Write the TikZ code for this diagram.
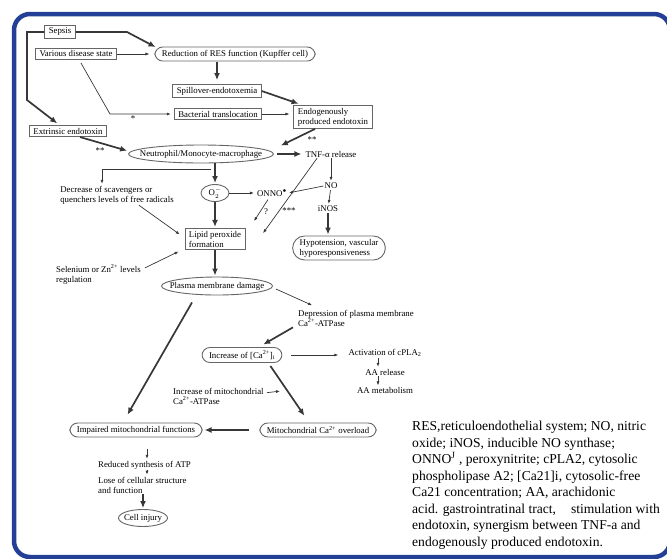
\documentclass[tikz,border=0pt]{standalone}
\usepackage{fontspec}
\setmainfont{Liberation Serif}
\usepackage{tikz}
\usetikzlibrary{shapes.geometric, arrows.meta, positioning, calc}
\definecolor{frameblue}{RGB}{35,64,150}
\definecolor{lineg}{RGB}{55,55,55}
\newcommand{\figfont}{\fontsize{8.8}{10}\selectfont}
\tikzset{
    framebox/.style={draw=frameblue, line width=4.5pt, rounded corners=16pt},
    rbox/.style={rectangle, draw=black!60, line width=0.9pt, align=left,
                 inner xsep=4pt, inner ysep=2.5pt, font=\figfont},
    pill/.style={rectangle, rounded corners=8pt, draw=black!60, line width=0.9pt,
                 align=left, inner xsep=7pt, inner ysep=3pt, font=\figfont},
    oval/.style={ellipse, draw=black!60, line width=0.9pt, inner sep=0pt,
                 minimum height=18pt, font=\figfont},
    lbl/.style={align=left, inner sep=1pt, font=\figfont},
    thinarr/.style={-{Latex[length=4pt,width=3pt]}, line width=0.7pt, draw=lineg, shorten >=1pt},
    thickarr/.style={-{Latex[length=7pt,width=6pt]}, line width=1.7pt, draw=lineg, shorten >=1pt},
    legendtxt/.style={align=left, inner sep=0pt, font=\fontsize{13.6}{16.5}\selectfont},
}

\begin{document}
\begin{tikzpicture}[x=1pt, y=-1pt, node distance=10pt and 10pt]
    \useasboundingbox (0,0) rectangle (667,558);
    \draw[framebox] (14,14) rectangle (670,557);

    \node[rbox] (sepsis) at (60,32) {Sepsis};
    \node[rbox] (various) at (76,54) {Various disease state};
    \node[pill] (res) at (235,54) {Reduction of RES function (Kupffer cell)};
    \node[rbox] (spill) at (217,91) {Spillover-endotoxemia};
    \node[rbox] (bact) at (218,114) {Bacterial translocation};
    \node[rbox] (endo) at (333,117) {Endogenously\\produced endotoxin};
    \node[rbox] (extr) at (68,131) {Extrinsic endotoxin};
    \node[oval, minimum width=145pt] (neutro) at (201,154) {\makebox[0pt]{Neutrophil/Monocyte-macrophage}};
    \node[lbl] (tnf) at (331,154) {TNF-α release};
    \node[lbl] (no) at (331,186) {NO};
    \node[lbl] (inos) at (328,209) {iNOS};
    \node[pill, rounded corners=12pt] (hypo) at (339,248) {Hypotension, vascular\\hyporesponsiveness};
    \node[oval, minimum width=28pt, minimum height=17pt] (otwo) at (215,193) {\makebox[0pt]{O$_2^{-}$}};
    \node[lbl] (onno) at (272,193) {ONNO$^{\bullet}$};
    \node[lbl] (decr) at (117,195) {Decrease of scavengers or\\quenchers levels of free radicals};
    \node[rbox] (lipid) at (215,239) {Lipid peroxide\\formation};
    \node[lbl, anchor=west] (selen) at (55,274) {Selenium or Zn\textsuperscript{2+} levels\\regulation};
    \node[oval, minimum width=111pt] (plasma) at (217,286) {\makebox[0pt]{Plasma membrane damage}};
    \node[lbl, anchor=west] (depr) at (297,318) {Depression of plasma membrane\\Ca\textsuperscript{2+}-ATPase};
    \node[pill] (incca) at (242,355) {Increase of [Ca\textsuperscript{2+}]\textsubscript{i}};
    \node[lbl] (cpla) at (385,353) {Activation of cPLA\textsubscript{2}};
    \node[lbl, below=of cpla] (aarel) {AA release};
    \node[lbl, below=of aarel] (aamet) {AA metabolism};
    \node[lbl, anchor=west] (mitatp) at (172,396) {Increase of mitochondrial\\Ca\textsuperscript{2+}-ATPase};
    \node[pill] (impair) at (136,430) {Impaired mitochondrial functions};
    \node[pill] (overload) at (318,430) {Mitochondrial Ca\textsuperscript{2+} overload};
    \node[lbl, anchor=west] (atp) at (97,465) {Reduced synthesis of ATP};
    \node[lbl, anchor=west] (lose) at (97,485) {Lose of cellular structure\\and function};
    \node[oval, minimum width=49pt, minimum height=17pt] (injury) at (143,518) {\makebox[0pt]{Cell injury}};

    \node[lbl] (st1) at (133,119) {*};
    \node[lbl] (st2) at (100,151) {**};
    \node[lbl] (st3) at (312,140) {**};
    \node[lbl] (qm) at (266,212) {?};
    \node[lbl] (st4) at (289,211) {***};

    \node[legendtxt, anchor=west] (legend) at (412,485) {RES,reticuloendothelial system; NO, nitric\\
        oxide; iNOS, inducible NO synthase;\\
        ONNO\textsuperscript{J} , peroxynitrite; cPLA2, cytosolic\\
        phospholipase A2; [Ca21]i, cytosolic-free\\
        Ca21 concentration; AA, arachidonic\\
        acid. gastrointratinal tract,\hspace{1.1em}stimulation with\\
        endotoxin, synergism between TNF-a and\\
        endogenously produced endotoxin.};

    \draw[thickarr] (sepsis) -- (127,32) -- ([xshift=2pt,yshift=-1pt]res.north west);
    \draw[thickarr] (sepsis) -- (27,32) -- (27,100) -- ([xshift=-10pt,yshift=1pt]extr.north);
    \draw[thinarr, shorten >=5pt] (various) -- (res);
    \draw[thinarr, shorten >=3pt] ([shift={(5pt,-3pt)}]various.south) -- (110,114) -- (bact);
    \draw[thickarr, shorten <=1pt, shorten >=4pt] (spill.north |- res.south) -- (spill.north);
    \draw[thickarr] (spill.east) -- ([xshift=6pt,yshift=1pt]endo.north west);
    \draw[thinarr, shorten >=4pt] (bact.east) -- (bact.east -| endo.west);
    \draw[thickarr] ([xshift=-18pt]endo.south) -- ([shift={(6pt,8pt)}]neutro.east);
    \draw[thickarr] ([xshift=12pt]extr.south) -- ([yshift=3pt]neutro.west);
    \draw[thickarr, shorten <=3pt, shorten >=3pt] (neutro) -- (tnf);
    \draw[thickarr] (otwo.north |- neutro.south) -- (otwo.north);
    \coordinate (split) at ($(otwo.north |- neutro.south)!0.3!(otwo.north)$);
    \draw[thinarr] ([xshift=-4pt]split) -| ([xshift=-15pt]decr.north);
    \draw[thickarr] (otwo) -- (lipid);
    \draw[thinarr, shorten >=2pt] (otwo) -- (onno);
    \draw[thinarr] (tnf) -- (no);
    \draw[thinarr] (no) -- (inos);
    \draw[thinarr] (no.west) -- (onno.east);
    \draw[thickarr] (inos.south) -- (inos.south |- hypo.north);
    \draw[thinarr] ([xshift=-4pt,yshift=-2pt]onno.south) -- ([xshift=8pt,yshift=6pt]lipid.north east);
    \draw[thinarr] ([xshift=-14pt]tnf.south) -- ([xshift=17pt,yshift=5pt]lipid.east);
    \draw[thinarr] ([xshift=22pt]decr.south) -- ([xshift=-4pt,yshift=4pt]lipid.west);
    \draw[thinarr] ([shift={(3pt,-5pt)}]selen.north east) -- ([xshift=-5pt,yshift=-1pt]lipid.south west);
    \draw[thickarr] (lipid.south) -- (lipid.south |- plasma.north);
    \draw[thinarr] ([shift={(3pt,-3pt)}]plasma.east) -- ([xshift=16pt,yshift=3pt]depr.north west);
    \draw[thickarr] ([xshift=-4pt]depr.south west) -- ([xshift=-20pt,yshift=2pt]incca.north east);
    \draw[thinarr, shorten <=9pt, shorten >=9pt] (incca.east) -- (incca.east -| cpla.west);
    \draw[thinarr] ([xshift=-7pt]cpla.south) -- ([xshift=-7pt]cpla.south |- aarel.north);
    \draw[thinarr] ([xshift=-7pt]cpla.south |- aarel.south) -- ([xshift=-7pt]cpla.south |- aamet.north);
    \draw[thickarr] ([shift={(-12pt,-3pt)}]incca.south east) -- ([xshift=-13pt,yshift=6pt]overload.north);
    \coordinate (atptip) at (281,391);
    \draw[thinarr] ([shift={(2pt,-6pt)}]mitatp.north east) -- (atptip);
    \draw[thickarr, shorten <=10pt, shorten >=2pt] (overload) -- (impair);
    \draw[thickarr] ([shift={(-25pt,-7pt)}]plasma.south) -- ([xshift=-9pt,yshift=7pt]impair.north);
    \draw[thinarr, shorten <=12pt] ([xshift=11pt]impair.south) -- ([xshift=11pt]impair.south |- atp.north);
    \draw[thinarr] ([xshift=11pt]impair.south |- atp.south) -- ([xshift=11pt]impair.south |- lose.north);
    \draw[thickarr] (injury.north |- lose.south) -- (injury.north);
\end{tikzpicture}
\end{document}
